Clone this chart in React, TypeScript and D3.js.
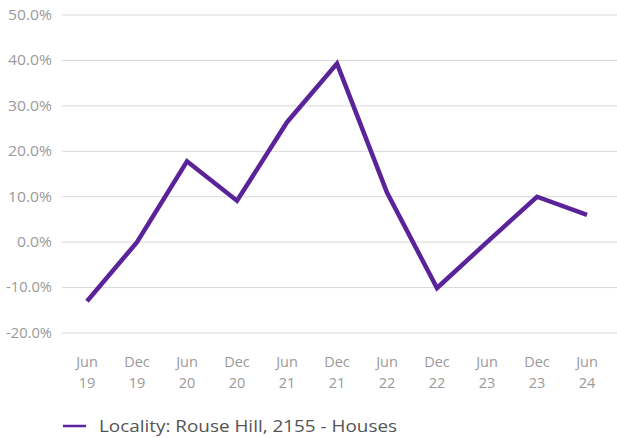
import React from "react";
import * as d3 from "d3";

const categories = ["Jun 19", "Dec 19", "Jun 20", "Dec 20", "Jun 21", "Dec 21", "Jun 22", "Dec 22", "Jun 23", "Dec 23", "Jun 24"];
const values = [-13.0, 0.0, 17.8, 9.1, 26.4, 39.3, 10.9, -10.1, 0.0, 10.0, 6.0];
const yTicks = [-20, -10, 0, 10, 20, 30, 40, 50];
const seriesName = "Locality: Rouse Hill, 2155 - Houses";

const W = 617;
const H = 438;
const FONT = "'Open Sans', Lato, sans-serif";
const LINE = "#5b2399";

export default function App() {
  const x = d3.scalePoint<string>().domain(categories).range([87, 587]);
  const y = d3.scaleLinear().domain([-20, 50]).range([333, 15]);
  const line = d3
    .line<number>()
    .x((_, i) => x(categories[i]) as number)
    .y((d) => y(d));

  return (
    <svg
      width={W}
      height={H}
      style={{ position: "absolute", left: 0, top: 0, display: "block", background: "#fff" }}
    >
      {yTicks.map((t) => (
        <g key={t}>
          <line x1={62} x2={617} y1={y(t)} y2={y(t)} stroke="#d9d9d9" strokeWidth={1} />
          <text
            x={52}
            y={y(t)}
            dy="0.35em"
            textAnchor="end"
            fontFamily={FONT}
            fontSize={14}
            fill="#9a9a9a"
            textLength={t < 0 ? 46 : t === 0 ? 35 : 44}
            lengthAdjust="spacingAndGlyphs"
          >
            {t.toFixed(1) + "%"}
          </text>
        </g>
      ))}
      {categories.map((c) => {
        const [a, b] = c.split(" ");
        return (
          <text key={c} textAnchor="middle" fontFamily={FONT} fontSize={14.5} fill="#9a9a9a">
            <tspan x={x(c)} y={367}>{a}</tspan>
            <tspan x={x(c)} y={388}>{b}</tspan>
          </text>
        );
      })}
      <path d={line(values) || ""} fill="none" stroke={LINE} strokeWidth={4.5} strokeLinejoin="miter" />
      <line x1={63} x2={86} y1={426} y2={426} stroke={LINE} strokeWidth={2.5} />
      <text
        x={99}
        y={432}
        fontFamily={FONT}
        fontSize={17}
        fill="#555"
        textLength={298}
        lengthAdjust="spacingAndGlyphs"
      >
        {seriesName}
      </text>
    </svg>
  );
}
